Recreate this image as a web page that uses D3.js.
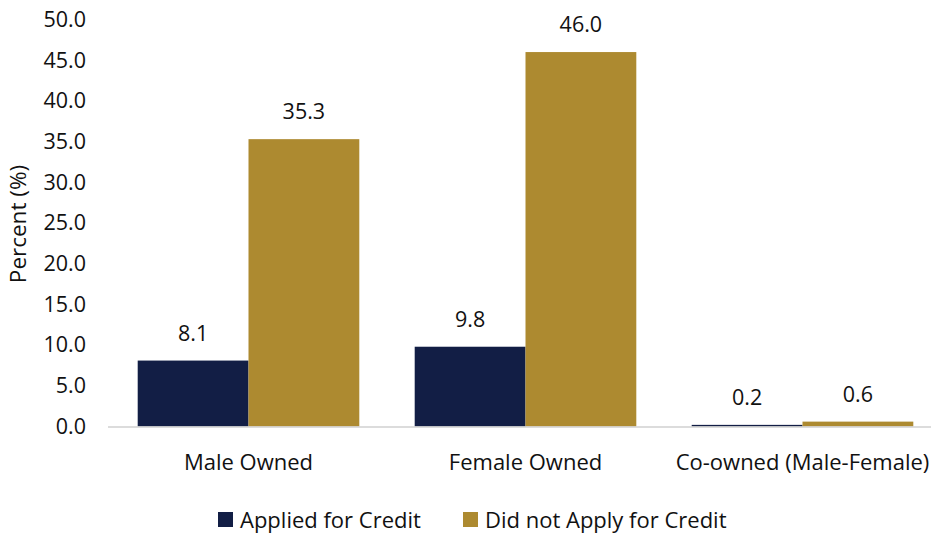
<!DOCTYPE html>
<html>
<head>
<meta charset="utf-8">
<script src="https://cdn.jsdelivr.net/npm/d3@7"></script>
<style>
  html, body { margin: 0; padding: 0; background: #fff; }
  svg text { font-family: "Open Sans", Lato, sans-serif; fill: #111; }
</style>
</head>
<body>
<svg id="chart" width="931" height="536"></svg>
<script>
const categories = ["Male Owned", "Female Owned", "Co-owned (Male-Female)"];
const seriesNames = ["Applied for Credit", "Did not Apply for Credit"];
const applied = [8.1, 9.8, 0.2];
const notApplied = [35.3, 46.0, 0.6];
const yTicks = [0, 5, 10, 15, 20, 25, 30, 35, 40, 45, 50];
const colors = ["#121e45", "#ad8a30"];

const svg = d3.select("#chart");
const x0 = d3.scaleBand().domain(categories).range([110, 941]).paddingInner(0.2).paddingOuter(0.1);
const x1 = d3.scaleBand().domain(seriesNames).range([0, x0.bandwidth()]).padding(0);
const y = d3.scaleLinear().domain([0, 50]).range([426.5, 19.5]);
const fs = "22px";
const tickFs = "21.5px";

// y axis labels
const yAxis = d3.axisLeft(y).tickValues(yTicks).tickFormat(d3.format(".1f")).tickSize(0).tickPadding(0);
const gy = svg.append("g").attr("transform", "translate(86,0)").call(yAxis);
gy.select(".domain").remove();
gy.selectAll("text").style("font-size", tickFs).attr("fill", "#111");

// y title
svg.append("text")
  .attr("transform", "translate(18,224) rotate(-90)")
  .attr("text-anchor", "middle")
  .attr("dy", "0.35em")
  .style("font-size", "22.5px")
  .text("Percent (%)");

// bars
const rows = categories.map((c, i) => ({ cat: c, vals: [applied[i], notApplied[i]] }));
const groups = svg.append("g").selectAll("g").data(rows).join("g")
  .attr("transform", d => `translate(${x0(d.cat)},0)`);

groups.selectAll("rect").data(d => d.vals.map((v, j) => ({ s: seriesNames[j], v, j })))
  .join("rect")
  .attr("x", d => x1(d.s))
  .attr("width", x1.bandwidth())
  .attr("y", d => y(d.v))
  .attr("height", d => y(0) - y(d.v))
  .attr("fill", d => colors[d.j]);

groups.selectAll("text.val").data(d => d.vals.map((v, j) => ({ s: seriesNames[j], v, j })))
  .join("text")
  .attr("class", "val")
  .attr("x", d => x1(d.s) + x1.bandwidth() / 2)
  .attr("y", d => y(d.v) - 20)
  .attr("text-anchor", "middle")
  .style("font-size", tickFs)
  .text(d => d3.format(".1f")(d.v));

// x axis line
svg.append("line")
  .attr("x1", 108).attr("x2", 931)
  .attr("y1", y(0) + 0.5).attr("y2", y(0) + 0.5)
  .attr("stroke", "#d0d0d0").attr("stroke-width", 1.5);

// category labels
const xAxis = d3.axisBottom(x0).tickSize(0).tickPadding(0);
const gx = svg.append("g").attr("transform", `translate(0,${y(0) + 28})`).call(xAxis);
gx.select(".domain").remove();
gx.selectAll("text").style("font-size", fs).attr("fill", "#111").attr("dy", "0.71em");

// legend
const legend = svg.append("g");
const legendItems = [{ name: seriesNames[0], x: 218, c: colors[0] }, { name: seriesNames[1], x: 463, c: colors[1] }];
legendItems.forEach(it => {
  legend.append("rect").attr("x", it.x).attr("y", 512).attr("width", 15).attr("height", 15).attr("fill", it.c);
  legend.append("text").attr("x", it.x + 22).attr("y", 520).attr("dy", "0.35em")
    .style("font-size", fs).text(it.name);
});
</script>
</body>
</html>
